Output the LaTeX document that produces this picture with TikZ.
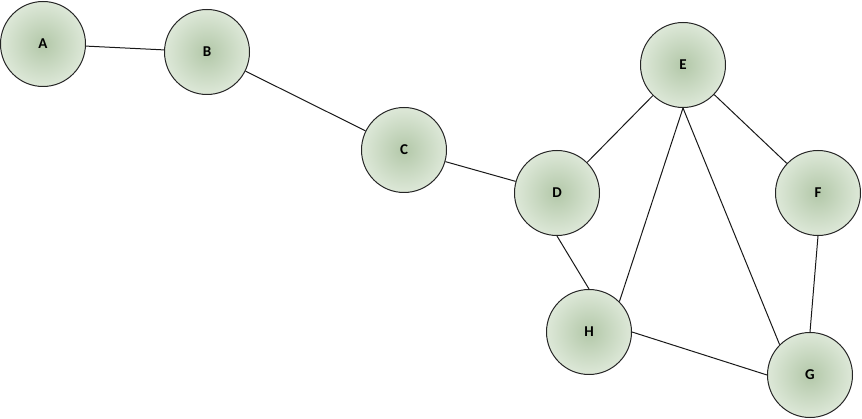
\documentclass[tikz,border=0pt]{standalone}
\usepackage{fontspec}
\setmainfont{Carlito}
\definecolor{cin}{HTML}{B3C8A9}
\definecolor{cout}{HTML}{DDE8D8}
\begin{document}
\begin{tikzpicture}[x=1pt,y=-1pt,
  vtx/.style={circle,draw=black!85,line width=1pt,minimum size=85pt,inner sep=0pt,
    inner color=cin,outer color=cout,font=\bfseries\fontsize{15}{17}\selectfont},
  edge/.style={line width=1pt,draw=black!90}]
\useasboundingbox (0,0) rectangle (862,419);
\node[vtx] (A) at (43,44) {A};
\node[vtx] (B) at (207,52) {B};
\node[vtx] (C) at (404,150) {C};
\node[vtx] (D) at (557,193) {D};
\node[vtx] (E) at (683,65) {E};
\node[vtx] (F) at (818,193) {F};
\node[vtx] (G) at (810,375) {G};
\node[vtx] (H) at (589,332) {H};
\draw[edge] (A) -- (B);
\draw[edge] (B) -- (C);
\draw[edge] (C) -- (D);
\draw[edge] (D) -- (E);
\draw[edge] (D.south) -- (H.north);
\draw[edge] (E.south) -- (H.north east);
\draw[edge] (E.south) -- (G.north west);
\draw[edge] (E) -- (F);
\draw[edge] (F.south) -- (G.north);
\draw[edge] (H.east) -- (G.west);
\end{tikzpicture}
\end{document}
